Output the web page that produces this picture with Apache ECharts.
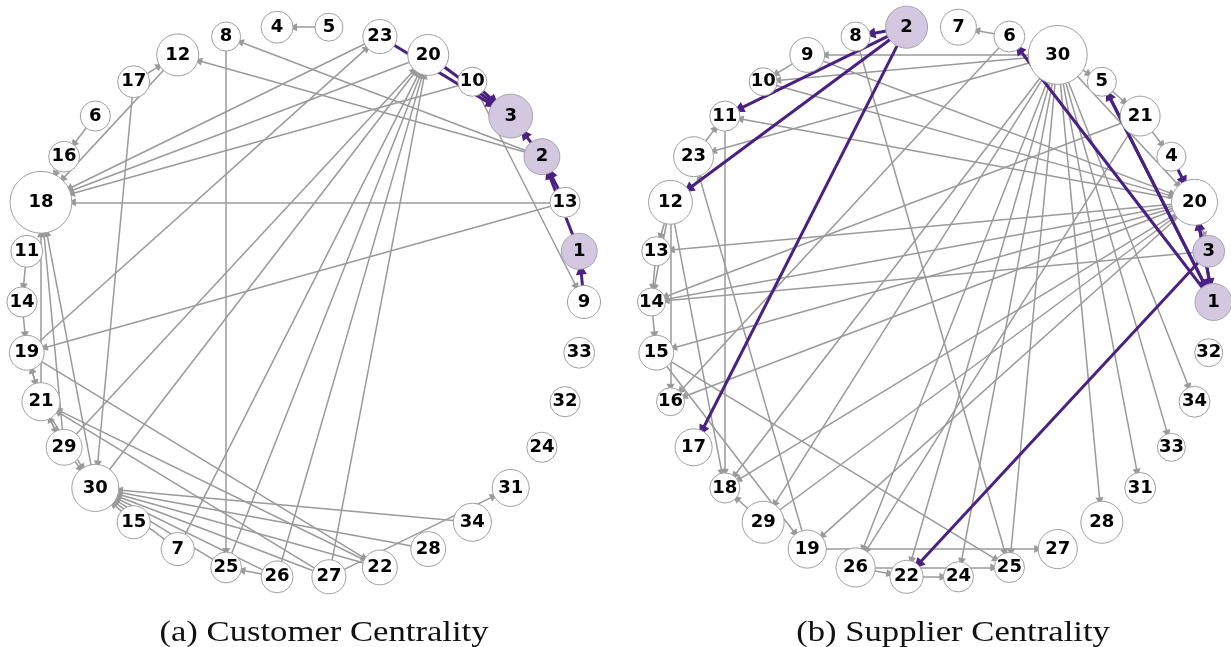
<!DOCTYPE html>
<html>
<head>
<meta charset="utf-8">
<script src="https://cdn.jsdelivr.net/npm/echarts@6/dist/echarts.min.js"></script>
<style>
  html, body { margin: 0; padding: 0; background: #ffffff; }
  #chart { width: 1231px; height: 647px; }
</style>
</head>
<body>
<div id="chart"></div>
<script>
// Firms placed clockwise around each circle, starting just right of twelve o'clock
const customerOrder = [5, 23, 20, 10, 3, 2, 13, 1, 9, 33, 32, 24, 31, 34, 28, 22, 27, 26, 25, 7, 15, 30, 29, 21, 19, 14, 11, 18, 16, 6, 17, 12, 8, 4];
const supplierOrder = [7, 6, 30, 5, 21, 4, 20, 3, 1, 32, 34, 33, 31, 28, 27, 25, 24, 22, 26, 19, 29, 18, 17, 16, 15, 14, 13, 12, 23, 11, 10, 9, 8, 2];

// Centrality score of firms 1..34 (drives node size)
const customerCentrality = [0.22, 0.22, 0.44, 0.11, 0.00, 0.06, 0.14, 0.03, 0.14, 0.03,
                            0.11, 0.39, 0.06, 0.06, 0.14, 0.08, 0.11, 0.94, 0.19, 0.36,
                            0.28, 0.19, 0.17, 0.06, 0.08, 0.11, 0.17, 0.19, 0.22, 0.53,
                            0.25, 0.06, 0.08, 0.28];
const supplierCentrality = [0.25, 0.39, 0.11, 0.03, 0.03, 0.08, 0.22, 0.03, 0.19, 0.00,
                            0.06, 0.44, 0.03, 0.00, 0.19, 0.00, 0.25, 0.06, 0.28, 0.50,
                            0.33, 0.14, 0.33, 0.06, 0.06, 0.31, 0.31, 0.39, 0.39, 0.86,
                            0.08, 0.00, 0.00, 0.08];

// Most central firms
const customerTop = [1, 2, 3];
const supplierTop = [1, 2, 3];

// Directed links [source, target]
const customerLinks = [
  [5, 4], [2, 8], [2, 12], [17, 12], [12, 18], [6, 16], [16, 18], [17, 30], [8, 25],
  [23, 18], [20, 18], [10, 18], [13, 18], [13, 19], [19, 23], [10, 9],
  [11, 14], [14, 19], [21, 18], [29, 18], [30, 18], [19, 21], [21, 19], [21, 29], [29, 21],
  [29, 30], [21, 30], [19, 22], [27, 21], [22, 21],
  [30, 20], [29, 20], [7, 20], [25, 20], [26, 20], [27, 20],
  [15, 30], [7, 30], [25, 30], [26, 30], [27, 30], [22, 30], [28, 30], [34, 30], [26, 25], [27, 31]
];
const customerKeyLinks = [[23, 3], [20, 3], [10, 3], [2, 3], [13, 2], [1, 2], [9, 1]];

const supplierLinks = [
  [6, 7], [30, 9], [9, 10], [30, 10], [10, 20], [9, 20], [20, 11], [23, 11], [30, 23], [19, 23],
  [11, 18], [12, 13], [12, 14], [13, 14], [14, 15], [12, 16], [12, 18], [15, 19], [15, 25],
  [20, 13], [20, 14], [20, 15], [20, 16], [21, 14], [3, 14], [6, 16], [29, 18], [30, 18], [20, 18],
  [30, 29], [29, 20], [20, 19], [19, 27], [26, 22], [26, 25], [22, 24], [21, 26], [8, 25],
  [30, 25], [30, 24], [30, 22], [30, 28], [30, 31], [30, 33], [30, 34], [30, 5], [30, 20],
  [5, 21], [21, 4], [4, 20], [20, 3], [30, 26]
];
const supplierKeyLinks = [[2, 8], [2, 11], [2, 12], [2, 17], [1, 6], [1, 5], [5, 1], [20, 1], [1, 20], [4, 20], [3, 22]];

const captions = ['(a) Customer Centrality', '(b) Supplier Centrality'];

const GREY = '#9a9a9a';
const PURPLE = '#4a2183';

function buildNodes(order, centrality, top) {
  const step = 2 * Math.PI / order.length;
  return order.map(function (id, k) {
    const a = (k + 0.5) * step;
    const hi = top.indexOf(id) >= 0;
    return {
      name: String(id),
      value: [Math.sin(a), Math.cos(a)],
      symbolSize: 28 + 36 * centrality[id - 1],
      itemStyle: {
        color: hi ? '#d3c8e0' : '#ffffff',
        borderColor: hi ? '#a9a2b3' : '#a0a0a0',
        borderWidth: 1
      }
    };
  });
}

function buildLinks(plain, key) {
  const out = plain.map(function (e) {
    return {
      source: String(e[0]), target: String(e[1]),
      symbolSize: [0, 8],
      lineStyle: { color: GREY, width: 1.5, opacity: 1 }
    };
  });
  key.forEach(function (e) {
    out.push({
      source: String(e[0]), target: String(e[1]),
      symbolSize: [0, 11],
      lineStyle: { color: PURPLE, width: 3, opacity: 1 }
    });
  });
  return out;
}

function graphSeries(idx, nodes, links) {
  return {
    type: 'graph',
    coordinateSystem: 'cartesian2d',
    xAxisIndex: idx,
    yAxisIndex: idx,
    symbol: 'circle',
    edgeSymbol: ['none', 'triangle'],
    edgeSymbolSize: [0, 8],
    label: {
      show: true,
      position: 'inside',
      color: '#000',
      fontFamily: 'DejaVu Sans',
      fontWeight: 'bold',
      fontSize: 18
    },
    lineStyle: { color: GREY, width: 1.5, curveness: 0, opacity: 1 },
    emphasis: { disabled: true },
    silent: true,
    animation: false,
    data: nodes,
    links: links
  };
}

function caption(text, cx) {
  return {
    type: 'text', x: cx, y: 633, scaleX: 1.155,
    style: { text: text, align: 'center', verticalAlign: 'middle',
             fontFamily: 'Liberation Serif', fontSize: 30, fill: '#111' }
  };
}

const chart = echarts.init(document.getElementById('chart'), null, { renderer: 'canvas' });

const axisBase = { type: 'value', min: -1, max: 1, show: false };

chart.setOption({
  animation: false,
  backgroundColor: '#ffffff',
  grid: [
    { left: 22, top: 26, width: 562, height: 552 },
    { left: 651.5, top: 26, width: 562, height: 552 }
  ],
  xAxis: [Object.assign({ gridIndex: 0 }, axisBase), Object.assign({ gridIndex: 1 }, axisBase)],
  yAxis: [Object.assign({ gridIndex: 0 }, axisBase), Object.assign({ gridIndex: 1 }, axisBase)],
  series: [
    graphSeries(0, buildNodes(customerOrder, customerCentrality, customerTop), buildLinks(customerLinks, customerKeyLinks)),
    graphSeries(1, buildNodes(supplierOrder, supplierCentrality, supplierTop), buildLinks(supplierLinks, supplierKeyLinks))
  ],
  graphic: [caption(captions[0], 324), caption(captions[1], 953)]
});
</script>
</body>
</html>
